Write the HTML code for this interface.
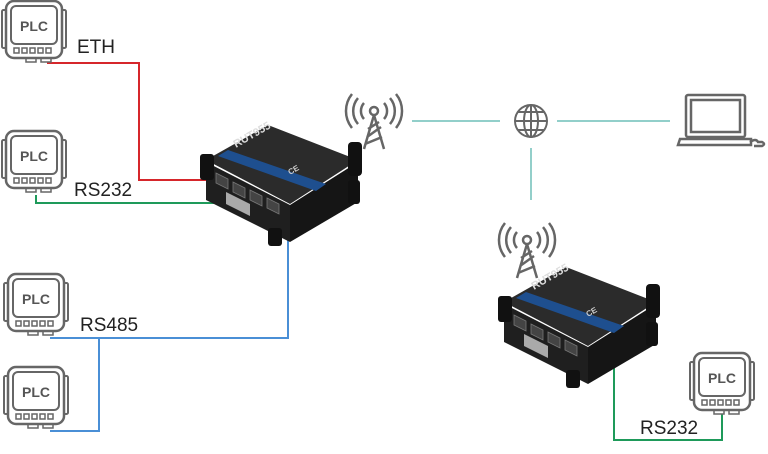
<!DOCTYPE html>
<html><head><style>
html,body{margin:0;padding:0;background:#fff;width:768px;height:454px;overflow:hidden}
svg text{font-family:"Liberation Sans",sans-serif}
</style></head><body>
<svg width="768" height="454" viewBox="0 0 768 454" xmlns="http://www.w3.org/2000/svg">
<defs>
<g id="plc">
  <rect x="2" y="10" width="4" height="38" rx="1.5" fill="none" stroke="#666" stroke-width="2"/>
  <rect x="62" y="10" width="4" height="38" rx="1.5" fill="none" stroke="#666" stroke-width="2"/>
  <rect x="6" y="1" width="56" height="57" rx="8" fill="#fff" stroke="#666" stroke-width="2.5"/>
  <rect x="11" y="6" width="46" height="38" rx="5" fill="none" stroke="#666" stroke-width="2"/>
  <text x="34" y="31" text-anchor="middle" font-size="14" font-weight="bold" fill="#555">PLC</text>
  <g fill="none" stroke="#666" stroke-width="1.5">
    <rect x="14" y="48" width="5" height="5"/><rect x="22" y="48" width="5" height="5"/><rect x="30" y="48" width="5" height="5"/><rect x="38" y="48" width="5" height="5"/><rect x="46" y="48" width="5" height="5"/>
    <rect x="26" y="58" width="10" height="4"/><rect x="41" y="58" width="10" height="4"/>
  </g>
</g>
<g id="router">
  <!-- right side -->
  <polygon points="92,85 160,42 160,82 92,122" fill="#151515"/>
  <!-- front -->
  <polygon points="8,42 92,85 92,122 8,80" fill="#1f1f1f"/>
  <!-- top -->
  <polygon points="8,40 70,5 160,40 92,84" fill="#2b2b2b"/>
  <polygon points="20,36 30,30 128,64 118,71" fill="#1e4f8f"/>
  <text x="38" y="28" font-size="11" font-weight="bold" fill="#ddd" transform="rotate(-30 38 28)">RUT955</text>
  <text x="92" y="55" font-size="8" font-weight="bold" fill="#ccc" transform="rotate(-30 92 55)">CE</text>
  <!-- feet -->
  <rect x="2" y="34" width="14" height="26" rx="3" fill="#111"/>
  <rect x="150" y="22" width="14" height="34" rx="4" fill="#111"/>
  <rect x="70" y="108" width="14" height="18" rx="3" fill="#111"/>
  <rect x="150" y="60" width="12" height="24" rx="3" fill="#111"/>
  <!-- ports -->
  <g fill="#444" stroke="#777" stroke-width="0.8"><polygon points="18,53 30,59 30,69 18,63"/><polygon points="35,62 47,68 47,78 35,72"/><polygon points="52,70 64,76 64,86 52,80"/><polygon points="69,78 81,84 81,94 69,88"/></g>
  <polygon points="28,72 52,84 52,96 28,84" fill="#aaa"/>
</g>
<g id="ant" fill="none" stroke="#666" stroke-width="2.5">
  <circle cx="24" cy="14" r="4"/>
  <path d="M24 18 L14 52 M24 18 L34 52 M17 40 L31 30 M15 47 L32 40 M18 32 L29 25"/>
  <path d="M14 6 A12 12 0 0 0 14 22 M34 6 A12 12 0 0 1 34 22 M8 1 A20 20 0 0 0 8 27 M40 1 A20 20 0 0 1 40 27 M2 -3 A27 27 0 0 0 2 31 M46 -3 A27 27 0 0 1 46 31"/>
</g>
</defs>

<!-- connectors -->
<polyline points="47,63 139,63 139,180 232,180" fill="none" stroke="#d6262b" stroke-width="2"/>
<polyline points="36,195 36,203 240,203" fill="none" stroke="#1e9a5a" stroke-width="2"/>
<polyline points="50,338 288,338 288,228" fill="none" stroke="#4a8fd6" stroke-width="2"/>
<polyline points="99,338 99,431 50,431" fill="none" stroke="#4a8fd6" stroke-width="2"/>
<polyline points="540,352 614,352 614,440 722,440 722,414" fill="none" stroke="#1e9a5a" stroke-width="2"/>
<g stroke="#6fbfb8" stroke-width="1.5">
<line x1="412" y1="121" x2="500" y2="121"/><line x1="557" y1="121" x2="670" y2="121"/><line x1="531" y1="148" x2="531" y2="200"/>
</g>

<use href="#plc" x="0" y="0"/>
<use href="#plc" x="0" y="130"/>
<use href="#plc" x="2" y="273"/>
<use href="#plc" x="2" y="366"/>
<use href="#plc" x="688" y="352"/>

<text x="77" y="53" font-size="19" fill="#222">ETH</text>
<text x="74" y="196" font-size="19" fill="#222">RS232</text>
<text x="80" y="331" font-size="19" fill="#222">RS485</text>
<text x="640" y="434" font-size="19" fill="#222">RS232</text>

<use href="#router" x="198" y="120"/>
<use href="#router" x="496" y="262"/>

<use href="#ant" x="350" y="97"/>
<use href="#ant" x="503" y="226"/>

<!-- globe -->
<g fill="none" stroke="#666" stroke-width="2">
<circle cx="531" cy="121" r="16"/><ellipse cx="531" cy="121" rx="7" ry="16"/>
<line x1="515" y1="121" x2="547" y2="121"/><line x1="531" y1="105" x2="531" y2="137"/>
<line x1="518" y1="112" x2="544" y2="112"/><line x1="518" y1="130" x2="544" y2="130"/>
</g>
<!-- laptop -->
<g fill="none" stroke="#666" stroke-width="2.5">
<rect x="686" y="95" width="59" height="42" rx="2"/>
<rect x="691" y="100" width="49" height="32"/>
<path d="M680 139 L751 139 L751 145 L678 145 Z"/>
<path d="M750 142 Q756 138 758 142 L762 142 Q766 144 762 146 L754 146"/>
</g>
</svg>
</body></html>
